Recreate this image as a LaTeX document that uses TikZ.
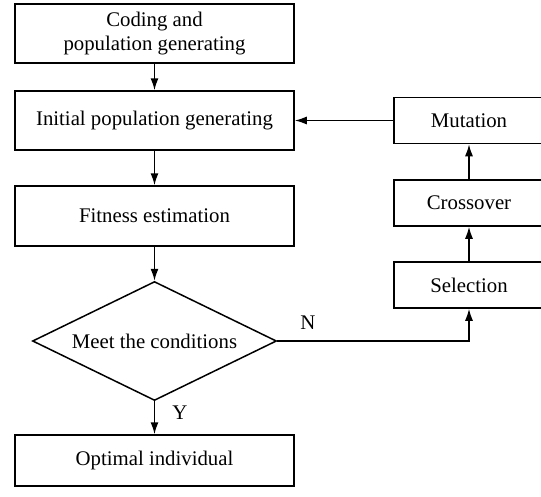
\documentclass[tikz,border=0pt]{standalone}
\usepackage{fontspec}
\setmainfont{Liberation Serif}
\usetikzlibrary{shapes.geometric,arrows.meta}
\begin{document}
\begin{tikzpicture}[x=1pt,y=-1pt,
  txt/.style={font=\fontsize{20.8}{24}\selectfont},
  box/.style={txt,draw,line width=1.5pt,rectangle,minimum width=279pt,inner sep=0pt,align=center},
  sbox/.style={txt,draw,line width=1.5pt,rectangle,minimum width=150pt,minimum height=46pt,inner sep=0pt},
  dia/.style={draw,line width=1.5pt,diamond,minimum width=244pt,minimum height=119pt,inner sep=0pt},
  arr/.style={line width=1.5pt,-{Latex[length=12pt,width=8pt]}},
  lbl/.style={txt,inner sep=0pt}]
\useasboundingbox (0,0) rectangle (541,496);
\node[box,minimum height=59pt] (code) at (154.5,33.5) {Coding and\\population generating};
\node[box,minimum height=59pt] (init) at (154.5,120.5) {Initial population generating};
\node[box,minimum height=60pt] (fit) at (154.5,216) {Fitness estimation};
\node[dia] (meet) at (154.5,341) {};
\node[lbl] (meettext) at (meet.center) {Meet the conditions};
\node[box,minimum height=51pt] (opt) at (154.5,460.5) {Optimal individual};
\node[sbox] (mut) at (469,120.5) {Mutation};
\node[sbox] (cro) at (469,203) {Crossover};
\node[sbox] (sel) at (469,285) {Selection};
\coordinate (corner) at (469,341);
\draw[arr] (code) -- (init);
\draw[arr] (init) -- (fit);
\draw[arr] (fit) -- (meet);
\draw[arr] (meet) -- (opt);
\draw[arr] (mut.west) -- (init.east);
\draw[arr] (cro) -- (mut);
\draw[arr] (sel) -- (cro);
\draw[arr] (meet.east) -- (corner) -- (sel.south);
\node[lbl] (n) at (308,323) {N};
\node[lbl] (y) at (180,413) {Y};
\end{tikzpicture}
\end{document}
